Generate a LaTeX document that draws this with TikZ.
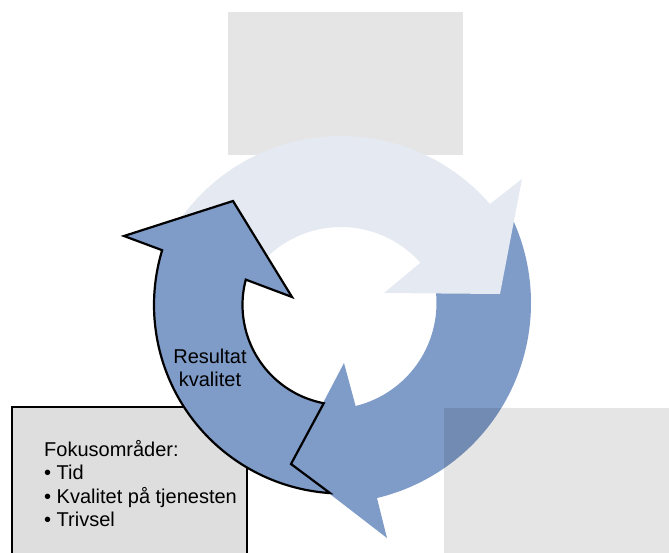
\documentclass[tikz,border=0pt]{standalone}
\usepackage{fontspec}
\setmainfont{Liberation Sans}
\usetikzlibrary{calc}
\definecolor{cycleblue}{RGB}{127,155,200}
\definecolor{cyclelight}{RGB}{228,233,242}

\begin{document}
\begin{tikzpicture}[x=1pt,y=-1pt,
 panel/.style={fill=black,fill opacity=0.1},
 notebox/.style={draw=black,line width=1.8pt,fill=black!13},
 darkarrow/.style={fill=cycleblue},
 lightarrow/.style={fill=cyclelight},
 outlined/.style={darkarrow,draw=black,line width=2.2pt,line join=miter},
 txt/.style={font=\fontsize{20}{23.5}\selectfont,inner sep=0pt}]
\useasboundingbox (0,0) rectangle (669,552);
% centres of the three arcs
\coordinate (B) at (330.5,303);
\coordinate (T) at (341,333);
\coordinate (L) at (342.5,305);
\path[panel] (228,12) rectangle (463,155);
\path[notebox] (12,407) rectangle (247,570);
% lower right arrow
\path[darkarrow] ($(B)+(330:200.5)$) arc[start angle=330,end angle=436.6,radius=200.5]
 -- (387,538) -- (291,464) -- (344,363)
 -- ($(B)+(436.3:106)$) arc[start angle=436.3,end angle=330,radius=106]
 -- ($(B)+(337:153)$) -- cycle;
% upper arrow
\path[lightarrow] ($(T)+(215:197)$) arc[start angle=215,end angle=319.1,radius=197]
 -- (522,179) -- (500,294) -- (384,293)
 -- ($(T)+(318.5:106)$) arc[start angle=318.5,end angle=215,radius=106]
 -- ($(T)+(221:151.5)$) -- cycle;
% left arrow
\draw[outlined] ($(L)+(93.8:188.5)$) arc[start angle=93.8,end angle=196.9,radius=188.5]
 -- (124,236) -- (233,201) -- (292,297)
 -- ($(L)+(194.7:100)$) arc[start angle=194.7,end angle=100.8,radius=100]
 -- (291,464) -- cycle;
\node[txt,align=center] (result) at (210,368) {Resultat\\kvalitet};
\node[txt,align=left,anchor=north west] (focus) at (44,440)
 {Fokusområder:\\• Tid\\• Kvalitet på tjenesten\\• Trivsel};
\path[panel] (444,408) rectangle (690,570);
\end{tikzpicture}
\end{document}
